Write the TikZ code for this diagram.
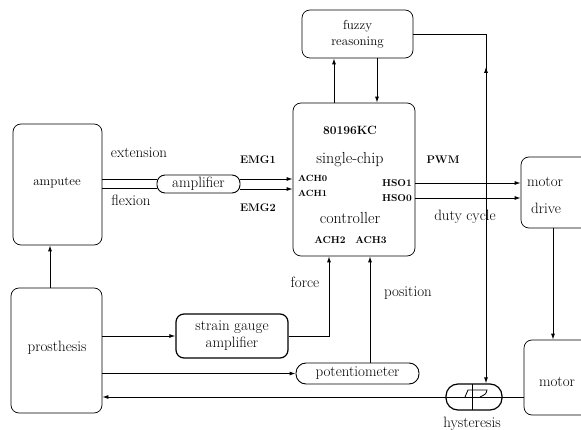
\documentclass[tikz,border=0pt]{standalone}
\usetikzlibrary{arrows.meta,decorations.markings}
\newcommand\fsz[2]{\fontsize{#1}{#2}\selectfont}
\begin{document}
\begin{tikzpicture}[x=1pt,y=-1pt,
  box/.style={draw, rounded corners=8pt, line width=0.7pt, inner sep=0pt},
  pill/.style={draw, rounded corners=9pt, line width=0.9pt, inner sep=0pt},
  ln/.style={line width=0.9pt},
  arr/.style={line width=0.9pt, -{Latex[length=6pt,width=4pt]}},
  txt/.style={inner sep=0pt, font=\fsz{15}{17}},
  small/.style={inner sep=0pt, font=\fsz{9}{10}\bfseries},
]
\useasboundingbox (0,0) rectangle (581,430);
\clip (0,0) rectangle (581,430);
% boxes
\node[box, minimum width=89pt, minimum height=121pt] (am) at (57.5,184.5) {};
\node[txt, font=\fsz{13}{15}] (amt) at (57,183) {amputee};
\node[box, minimum width=91pt, minimum height=125pt] (pr) at (56.5,350.5) {};
\node[txt] (prt) at (57,348) {prosthesis};
\node[box, minimum width=111pt, minimum height=48pt, align=center, font=\fsz{13}{16}] (fz) at (357.5,34) {fuzzy\\reasoning};
\node[box, minimum width=122pt, minimum height=153pt] (ct) at (354,179.5) {};
\node[txt, font=\fsz{12}{14}\bfseries] (c1) at (350,130) {80196KC};
\node[txt, font=\fsz{16}{18}] (c2) at (350,160) {single-chip};
\node[txt, font=\fsz{16}{18}] (c3) at (350,218) {controller};
\node[small, anchor=west] (a0) at (298,178) {ACH0};
\node[small, anchor=west] (a1) at (298,193) {ACH1};
\node[small, font=\fsz{10}{11}\bfseries, anchor=east] (h1) at (412,183) {HSO1};
\node[small, font=\fsz{10}{11}\bfseries, anchor=east] (h0) at (412,198) {HSO0};
\node[small, font=\fsz{10}{11}\bfseries] (a2) at (330,240) {ACH2};
\node[small, font=\fsz{10}{11}\bfseries] (a3) at (371,240) {ACH3};
\node[box, minimum width=80pt, minimum height=71pt] (md) at (561,192.5) {};
\node[txt] (mdt1) at (545,182) {motor};
\node[txt] (mdt2) at (546,208) {drive};
\node[box, minimum width=80pt, minimum height=75pt] (mo) at (564,377.5) {};
\node[txt] (mot) at (557,382) {motor};
\node[pill, rounded corners=8pt, minimum width=83pt, minimum height=18pt, font=\fsz{15}{17}] (amp) at (198.5,184) {amplifier};
\node[box, line width=1.2pt, minimum width=112pt, minimum height=44pt, align=center, font=\fsz{15}{17}] (sg) at (232,336) {strain gauge\\amplifier};
\node[pill, rounded corners=10pt, minimum width=123pt, minimum height=21pt, font=\fsz{15}{17}] (po) at (357.5,373.5) {potentiometer};
\node[pill, rounded corners=12pt, line width=1.2pt, minimum width=56pt, minimum height=26pt] (hy) at (474,397) {};
\node[txt] (hyt) at (472,424) {hysteresis};
% labels
\node[txt] (lext) at (139,153) {extension};
\node[txt] (lflx) at (131,200) {flexion};
\node[small, font=\fsz{11}{12}\bfseries] (le1) at (258,160) {EMG1};
\node[small, font=\fsz{11}{12}\bfseries] (le2) at (258,208) {EMG2};
\node[small, font=\fsz{11}{12}\bfseries] (lpwm) at (443,160) {PWM};
\node[txt] (lduty) at (465,217) {duty cycle};
\node[txt] (lforce) at (305,282) {force};
\node[txt] (lpos) at (408,293) {position};
% connectors
\draw[ln] (am.east |- 0,179) -- (amp.west |- 0,179);
\draw[ln] (am.east |- 0,188) -- (amp.west |- 0,188);
\draw[arr] (amp.east |- 0,179) -- (ct.west |- 0,179);
\draw[arr] (amp.east |- 0,189) -- (ct.west |- 0,189);
\draw[arr] (pr.north -| 50,0) -- (am.south -| 50,0);
\draw[arr] (pr.east |- sg.west) -- (sg.west);
\draw[ln, -{Latex[length=6pt,width=4pt]}] (sg.east) -| (ct.south -| 329,0);
\draw[arr] (pr.east |- po.west) -- (po.west);
\draw[arr] (po.north -| 370,0) -- (ct.south -| 370,0);
\draw[arr] (ct.north -| 334,0) -- (fz.south -| 334,0);
\draw[arr] (fz.south -| 377,0) -- (ct.north -| 377,0);
\draw[arr] (ct.east |- 0,183) -- (md.west |- 0,183);
\draw[arr] (ct.east |- 0,198) -- (md.west |- 0,198);
\draw[arr] (md.south -| 553,0) -- (mo.north -| 553,0);
\coordinate (fzr) at (486,34);
\draw[ln, -{Latex[length=6pt,width=4pt]}, postaction={decorate},
  decoration={markings, mark=at position 0.25 with {\arrowreversed{Latex[length=6pt,width=4pt]}}}]
  (fz.east) -- (fzr) -- (hy.north -| fzr);
\draw[ln] (hy.east -| mo.west) -- (hy.west);
\draw[arr] (hy.west) -- (hy.west -| pr.east);
% hysteresis symbol
\draw[line width=0.9pt] (472,384) -- (472,410);
\draw[line width=0.8pt] (465,397) -- (468,390) -- (487,390) .. controls (486,394) .. (480,397);
\end{tikzpicture}
\end{document}
